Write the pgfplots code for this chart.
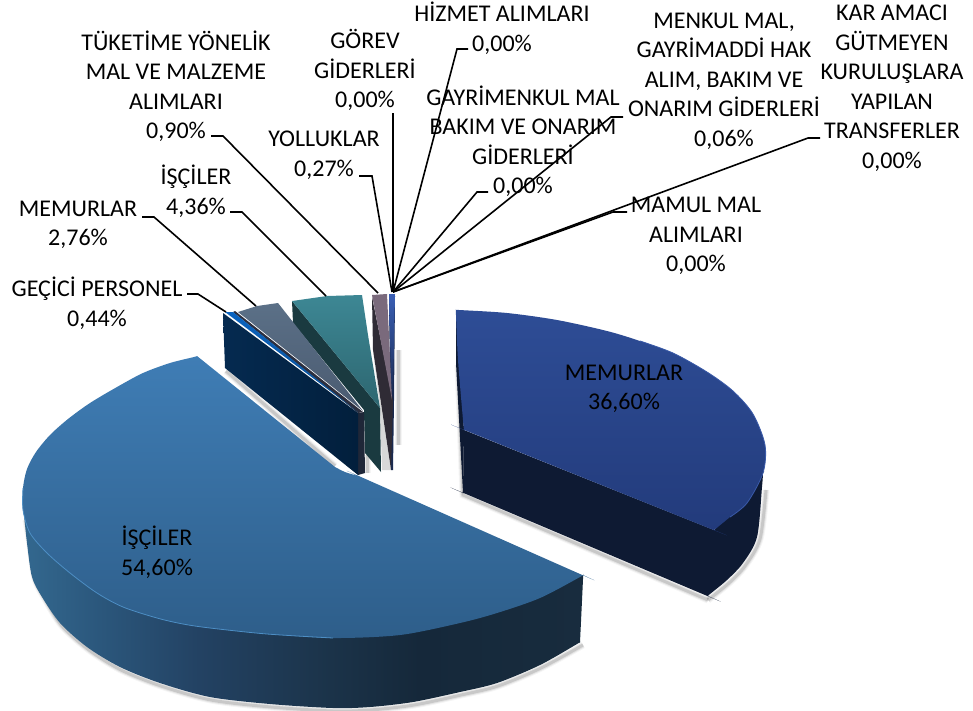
\documentclass[border=0pt]{standalone}
\usepackage{pgfplots}
\pgfplotsset{compat=1.18}
\usepackage{fontspec}
\setmainfont{Carlito}
\definecolor{w1}{HTML}{33688F}\definecolor{w2}{HTML}{2B577C}\definecolor{w3}{HTML}{234263}
\definecolor{w4}{HTML}{1B3349}\definecolor{w5}{HTML}{15283A}\definecolor{w6}{HTML}{182C3E}
\pgfdeclarehorizontalshading{bigwall}{100bp}{color(0bp)=(w1);color(25bp)=(w1);color(31.8bp)=(w2);color(40.7bp)=(w3);color(52.4bp)=(w4);color(60.4bp)=(w5);color(75bp)=(w6);color(100bp)=(w6)}
\definecolor{bigtop}{HTML}{3F7DB5}\definecolor{bigbot}{HTML}{2E5E8A}\definecolor{bigedge}{HTML}{4D8EC4}
\definecolor{memtop}{HTML}{2E4D96}\definecolor{membot}{HTML}{223A7A}\definecolor{memwall}{HTML}{0E1A33}\definecolor{memedge}{HTML}{3A5AA8}
\definecolor{navya}{HTML}{052A50}\definecolor{navyb}{HTML}{021F3C}\definecolor{stripa}{HTML}{0A63BF}\definecolor{stripb}{HTML}{0D4F90}
\definecolor{darka}{HTML}{1F2738}\definecolor{darkb}{HTML}{2D2F3E}\definecolor{slatea}{HTML}{5B7087}\definecolor{slateb}{HTML}{4A5A70}
\definecolor{teala}{HTML}{3D8794}\definecolor{tealb}{HTML}{2D6670}\definecolor{teald}{HTML}{1A3A40}
\definecolor{mauve}{HTML}{7A6A7C}\definecolor{maud}{HTML}{2F2B35}\definecolor{thina}{HTML}{3A5FB5}\definecolor{thinb}{HTML}{1A2A50}
\newcommand{\shad}[2]{%
\addplot[smooth,draw=black,opacity=#2,line width=#1pt] coordinates {(26,520)(30,545)(35,579)(45,599)(62,626)(89,650)(121,670)(161,686)(211,700)(271,707)(333,711)(370,710)(414,705)(461,695)(498,686)(541,668)(583,645)};
\addplot[draw=black,opacity=#2,line width=#1pt] coordinates {(226,371)(335,466)};
\addplot[draw=black,opacity=#2,line width=#1pt] coordinates {(458,365)(463,495)(708,600)};
\addplot[smooth,draw=black,opacity=#2,line width=#1pt] coordinates {(708,600)(729,583)(745,566)(760,539)(766,490)};
\addplot[draw=black,opacity=#2,line width=#1pt] coordinates {(398,350)(398,445)};
\addplot[draw=black,opacity=#2,line width=#1pt] coordinates {(367,455)(367,473)};
}
\newcommand{\lbl}[3]{\node[font=\fontsize{24}{29.5}\selectfont,align=center,text=black,inner sep=0pt] at (axis cs:#1,#2) {#3};}
\begin{document}
\begin{tikzpicture}
\path[use as bounding box] (0,0) rectangle (973pt,710pt);
\begin{axis}[scale only axis,width=973pt,height=710pt,xmin=0,xmax=973,ymin=0,ymax=710,y dir=reverse,hide axis,clip=false,no markers]
\shad{7}{0.04}
\shad{5}{0.07}
\shad{3}{0.12}
% MEMURLAR 36,60
\addplot[draw=none,fill=memwall] coordinates {(456,310)(456,363)(463,493)(464,430)} --cycle;
\addplot[smooth,draw=none,fill=memwall] coordinates {(464,430)(464,430)(464,430)(464,433)(463,490)(463,493)(463,493)(463,493)(466,494)(705,595)(708,596)(708,596)(708,596)(710,594)(727,580)(743,563)(757,537)(762,487)(763,473)(763,473)(763,473)(761,475)(716,528)(714,530)(714,530)(714,530)} --cycle;
\addplot[smooth,draw=none,top color=memtop,bottom color=membot] coordinates {(456,310)(456,310)(456,310)(459,310)(507,313)(557,320)(607,331)(640,341)(673,353)(707,372)(733,391)(753,414)(765,445)(763,473)(747,503)(730,517)(716,528.5)(714,530)(714,530)(714,530)(711,529)(467,431)(464,430)(464,430)(464,430)(463,420)(458,360)(456,315)(456,310)} --cycle;
\addplot[smooth,draw=memedge,line width=0.8pt] coordinates {(640,341)(673,353)(707,372)(733,391)(753,414)(765,445)(763,473)(747,503)(730,517)};
% small slices
\addplot[draw=none,fill=thinb] coordinates {(389,296)(395,296)(394,400)(393,470)(391,470)} --cycle;
\addplot[draw=none,top color=thina,bottom color=thinb] coordinates {(389,294)(395,294)(393,397)(391,380)} --cycle;
\addplot[draw=none,fill=maud] coordinates {(372,297)(373,350)(391,470)(393,400)} --cycle;
\addplot[draw=none,fill=mauve] coordinates {(372,295)(387,294)(392,400)} --cycle;
\addplot[draw=none,fill=gray!60,opacity=0.5] coordinates {(373,350)(380,408)(382,470)(391,470)} --cycle;
% teal
\addplot[draw=none,fill=teald] coordinates {(292,301)(380,408)(381,472)(365,453)(364,410)(293,323)} --cycle;
\addplot[draw=none,top color=teala,bottom color=tealb] coordinates {(292,301)(327,296)(362,295)(368,335)(380,408)} --cycle;
% dark side + slate
\addplot[draw=none,fill=darka] coordinates {(358,413)(364,412)(365,473)(358,475)} --cycle;
\addplot[draw=none,fill=darkb] coordinates {(235,311)(363,412)(358,413)(233,312)} --cycle;
\addplot[draw=none,top color=slatea,bottom color=slateb] coordinates {(238,312)(257,306)(278,303)(363,411)} --cycle;
% navy + strip
\addplot[draw=none,left color=navya,right color=navyb] coordinates {(223,313)(225,368)(358,475)(358,413)} --cycle;
\addplot[draw=none,top color=stripa,bottom color=stripb] coordinates {(225,312)(233,312)(358,412)} --cycle;
% big slice
\addplot[smooth,draw=none,shading=bigwall] coordinates {(23,507)(23,507)(23,507)(23.5,510)(27,543)(32,577)(42,597)(60,623)(87,647)(120,667)(160,683)(210,697)(270,704)(333,708)(370,707)(413,702)(460,692)(497,683)(540,665)(577,644)(580,642)(580,642)(580,642)(580.2,638)(583,579)(583,575)(583,575)(583,575)(579,575)} --cycle;
\addplot[smooth,draw=none,top color=bigtop,bottom color=bigbot] coordinates {(197,356)(197,356)(197,356)(194,357)(170,363)(143,373)(117,387)(90,403)(68,419)(50,435)(36,452)(27,469)(23,488)(23,510)(30,533)(47,553)(70,573)(97,593)(123,607)(157,618)(183,624)(210,628)(267,634)(333,638)(400,635)(460,623)(497,613)(540,598)(580,577)(583,575)(583,575)(583,575)(580,574)(361,477)(358,476)(358,476)(358,476)(345,472)(335,467)(335,467)(335,467)} --cycle;
\addplot[smooth,draw=bigedge,line width=0.8pt] coordinates {(23,488)(23,510)(30,533)(47,553)(70,573)(97,593)(123,607)(157,618)(183,624)(210,628)(267,634)(333,638)};
% leader lines
\addplot[draw=black,line width=1.6pt] coordinates {(468,49)(457,49)(393,292)};
\addplot[draw=black,line width=1.6pt] coordinates {(393,113)(393,292)};
\addplot[draw=black,line width=1.6pt] coordinates {(359,176)(372,176)(392,292)};
\addplot[draw=black,line width=1.6pt] coordinates {(211,136)(223,136)(378,293)};
\addplot[draw=black,line width=1.6pt] coordinates {(230,212)(242,212)(326,296)};
\addplot[draw=black,line width=1.6pt] coordinates {(142,217)(154,217)(256,306)};
\addplot[draw=black,line width=1.6pt] coordinates {(187,294)(198,294)(226,312)};
\addplot[draw=black,line width=1.6pt] coordinates {(488,192)(477,192)(393,292)};
\addplot[draw=black,line width=1.6pt] coordinates {(623,117)(611,117)(393,292)};
\addplot[draw=black,line width=1.6pt] coordinates {(627,212)(613,212)(393,292)};
\addplot[draw=black,line width=1.6pt] coordinates {(820,138)(808,138)(393,292)};
% labels
\lbl{502}{28}{HİZMET ALIMLARI\\0,00\%}
\lbl{365}{70}{GÖREV\\GİDERLERİ\\0,00\%}
\lbl{176}{86}{TÜKETİME YÖNELİK\\MAL VE MALZEME\\ALIMLARI\\0,90\%}
\lbl{324}{155}{YOLLUKLAR\\0,27\%}
\lbl{196}{191}{İŞÇİLER\\4,36\%}
\lbl{78}{225}{MEMURLAR\\2,76\%}
\lbl{97}{303}{GEÇİCİ PERSONEL\\0,44\%}
\lbl{523}{141}{GAYRİMENKUL MAL\\BAKIM VE ONARIM\\GİDERLERİ\\0,00\%}
\lbl{724}{81}{MENKUL MAL,\\GAYRİMADDİ HAK\\ALIM, BAKIM VE\\ONARIM GİDERLERİ\\0,06\%}
\lbl{892}{88}{KAR AMACI\\GÜTMEYEN\\KURULUŞLARA\\YAPILAN\\TRANSFERLER\\0,00\%}
\lbl{696}{236}{MAMUL MAL\\ALIMLARI\\0,00\%}
\lbl{624}{389}{MEMURLAR\\36,60\%}
\lbl{157}{552}{İŞÇİLER\\54,60\%}
\end{axis}
\end{tikzpicture}
\end{document}
